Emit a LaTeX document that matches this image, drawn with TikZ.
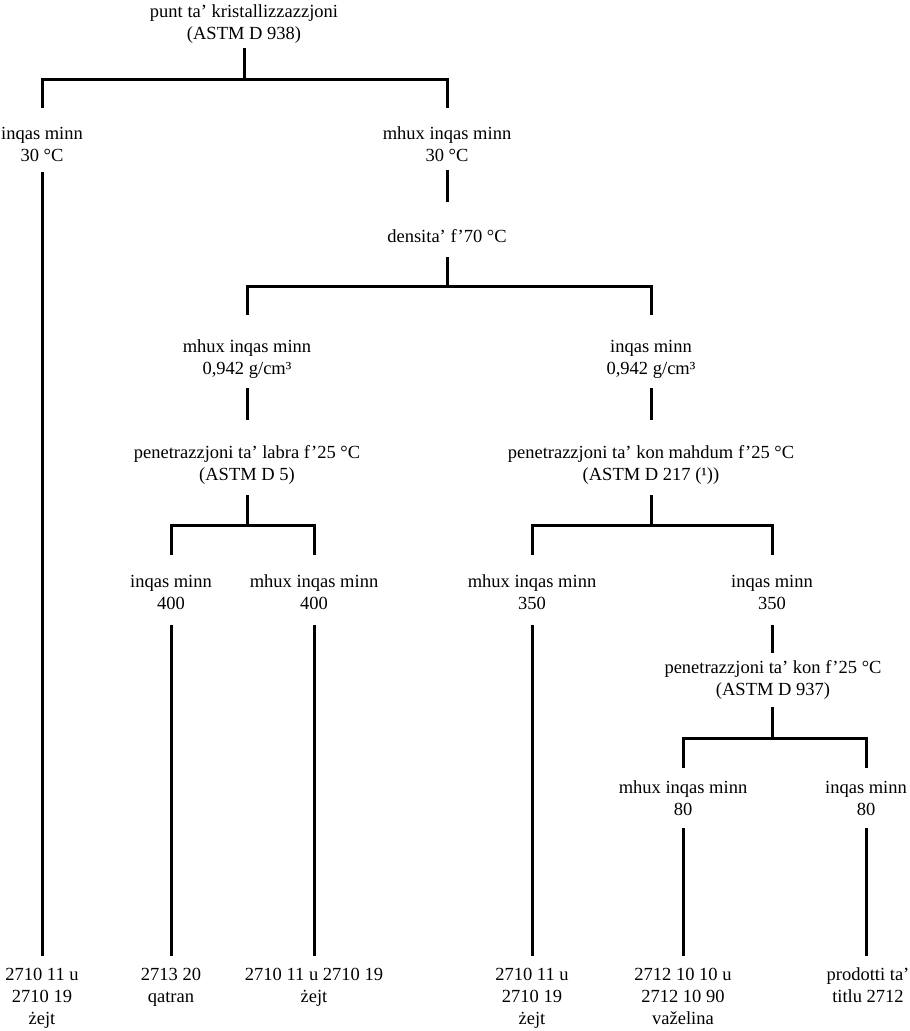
\documentclass[tikz,border=0pt]{standalone}
\usepackage{fontspec}
\setmainfont{Liberation Serif}
\begin{document}
\begin{tikzpicture}[x=1pt,y=-1pt,
  lbl/.style={align=center, inner sep=0pt, outer sep=0pt, font=\fontsize{18.5}{22}\selectfont},
  conn/.style={line width=3pt, black},
  link/.style 2 args={conn, shorten <=#1pt, shorten >=#2pt}]
\useasboundingbox (0,0) rectangle (910,1031);
\newcommand{\s}{\strut}
% nodes
\node[lbl] (top) at (244,23.6) {\s punt ta' kristallizzazzjoni\\\s(ASTM D 938)};
\node[lbl] (L1) at (42,145.6) {\s inqas minn\\\s30 °C};
\node[lbl] (R1) at (447,145.6) {\s mhux inqas minn\\\s30 °C};
\node[lbl] (dens) at (447,237.6) {\s densita' f'70 °C};
\node[lbl] (M1) at (247,358.6) {\s mhux inqas minn\\\s0,942 g/cm³};
\node[lbl] (M2) at (651,358.6) {\s inqas minn\\\s0,942 g/cm³};
\node[lbl] (P1) at (247,464.6) {\s penetrazzjoni ta' labra f'25 °C\\\s(ASTM D 5)};
\node[lbl] (P2) at (651,464.6) {\s penetrazzjoni ta' kon mahdum f'25 °C\\\s(ASTM D 217 (¹))};
\node[lbl] (A) at (171,593.6) {\s inqas minn\\\s400};
\node[lbl] (B) at (314,593.6) {\s mhux inqas minn\\\s400};
\node[lbl] (C) at (532,593.6) {\s mhux inqas minn\\\s350};
\node[lbl] (D) at (772,593.6) {\s inqas minn\\\s350};
\node[lbl] (Pk) at (773,679.6) {\s penetrazzjoni ta' kon f'25 °C\\\s(ASTM D 937)};
\node[lbl] (E) at (683,799.6) {\s mhux inqas minn\\\s80};
\node[lbl] (F) at (866,799.6) {\s inqas minn\\\s80};
\node[lbl] (Z1) at (42,997.6) {\s 2710 11 u\\\s2710 19\\\s żejt};
\node[lbl] (Z2) at (171,986.6) {\s 2713 20\\\s qatran};
\node[lbl] (Z3) at (314,986.6) {\s 2710 11 u 2710 19\\\s żejt};
\node[lbl] (Z4) at (532,997.6) {\s 2710 11 u\\\s2710 19\\\s żejt};
\node[lbl] (Z5) at (683,997.6) {\s 2712 10 10 u\\\s2712 10 90\\\s važelina};
\node[lbl] (Z6) at (868,986.6) {\s prodotti ta'\\\s titlu 2712};
% bar levels
\coordinate (bar1) at (0,79);
\coordinate (bar2) at (0,286);
\coordinate (bar3) at (0,525);
\coordinate (bar5) at (0,738);
% connectors
\draw[link={2.4}{15.6}] (top.south) -- (top.south |- bar1) -| (L1.north);
\draw[link={2.4}{15.6}] (top.south) -- (top.south |- bar1) -| (R1.north);
\draw[link={4.4}{8.6}] (L1.south) -- (Z1.north);
\draw[link={2.4}{24.6}] (R1.south) -- (dens.north);
\draw[link={8.4}{21.6}] (dens.south) -- (dens.south |- bar2) -| (M1.north);
\draw[link={8.4}{21.6}] (dens.south) -- (dens.south |- bar2) -| (M2.north);
\draw[link={7.4}{22.6}] (M1.south) -- (P1.north);
\draw[link={7.4}{22.6}] (M2.south) -- (P2.north);
\draw[link={8.4}{16.6}] (P1.south) -- (P1.south |- bar3) -| (A.north);
\draw[link={8.4}{16.6}] (P1.south) -- (P1.south |- bar3) -| (B.north);
\draw[link={8.4}{16.6}] (P2.south) -- (P2.south |- bar3) -| (C.north);
\draw[link={8.4}{16.6}] (P2.south) -- (P2.south |- bar3) -| (D.north);
\draw[link={9.4}{8.6}] (A.south) -- (Z2.north);
\draw[link={9.4}{8.6}] (B.south) -- (Z3.north);
\draw[link={9.4}{8.6}] (C.south) -- (Z4.north);
\draw[link={9.4}{4.6}] (D.south) -- (D.south |- Pk.north);
\draw[link={5.4}{9.6}] (Pk.south -| D.south) -- (D.south |- bar5) -| (E.north);
\draw[link={5.4}{9.6}] (Pk.south -| D.south) -- (D.south |- bar5) -| (F.north);
\draw[link={6.4}{8.6}] (E.south) -- (Z5.north);
\draw[link={6.4}{8.6}] (F.south) -- (F.south |- Z6.north);
\end{tikzpicture}
\end{document}
